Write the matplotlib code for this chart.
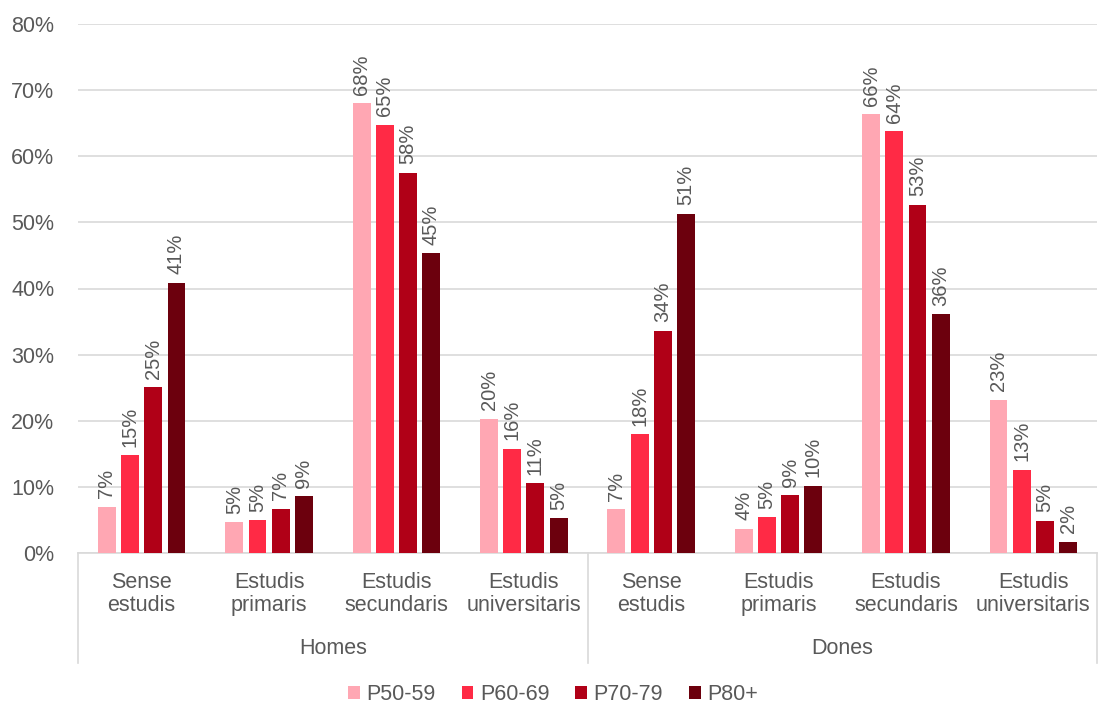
import matplotlib
matplotlib.use("Agg")
import matplotlib.pyplot as plt
import matplotlib.transforms as mtransforms
from matplotlib.patches import Patch
import numpy as np

plt.rcParams['font.family'] = ['Liberation Sans', 'DejaVu Sans']

categories = ["Sense\nestudis", "Estudis\nprimaris", "Estudis\nsecundaris", "Estudis\nuniversitaris",
              "Sense\nestudis", "Estudis\nprimaris", "Estudis\nsecundaris", "Estudis\nuniversitaris"]
groups = ["Homes", "Dones"]
series_names = ["P50-59", "P60-69", "P70-79", "P80+"]

p50_59 = [7.0, 4.7, 68.0, 20.3, 6.6, 3.7, 66.4, 23.2]
p60_69 = [14.8, 5.0, 64.8, 15.8, 18.0, 5.4, 63.8, 12.6]
p70_79 = [25.1, 6.7, 57.5, 10.6, 33.6, 8.7, 52.7, 4.9]
p80 = [40.9, 8.6, 45.3, 5.3, 51.3, 10.2, 36.1, 1.7]
series = [p50_59, p60_69, p70_79, p80]

colors = ["#FFA7B3", "#FF2A45", "#B00017", "#6C000D"]
text_color = "#595959"
grid_color = "#D9D9D9"

W, H = 1101, 706
fig = plt.figure(figsize=(W / 100, H / 100), dpi=100)
left, right, top, bottom = 78, 1097, 24, 553
ax = fig.add_axes([left / W, 1 - bottom / H, (right - left) / W, (bottom - top) / H])

x = np.arange(len(categories))
step = 0.182
width = 0.14
for j, vals in enumerate(series):
    xs = x + (j - 1.5) * step
    ax.bar(xs, [v / 100 for v in vals], width=width, color=colors[j], zorder=3,
           label=series_names[j])
    for xi, v in zip(xs, vals):
        ax.annotate(f"{round(v):d}%", xy=(xi, v / 100), xytext=(0, 6), textcoords="offset points",
                    rotation=90, ha="center", va="bottom", fontsize=14.5, color=text_color)

ax.set_xlim(-0.5, len(categories) - 0.5)
ax.set_ylim(0, 0.8)
ax.set_yticks(np.arange(0, 0.81, 0.1))
ax.set_yticklabels([f"{int(round(t * 100))}%" for t in np.arange(0, 0.81, 0.1)],
                   fontsize=15.5, color=text_color)
ax.tick_params(axis="y", length=0, pad=17)
ax.set_xticks([])
ax.yaxis.grid(True, color=grid_color, linewidth=1.2, zorder=0)
for s in ["top", "right", "left"]:
    ax.spines[s].set_visible(False)
ax.spines["bottom"].set_color(grid_color)
ax.spines["bottom"].set_linewidth(1.2)

axh = bottom - top
trans = mtransforms.blended_transform_factory(ax.transData, ax.transAxes)
for i, c in enumerate(categories):
    ax.text(i, -(594 - 553) / axh, c, transform=trans, ha="center", va="center",
            fontsize=15.5, color=text_color, linespacing=1.1)
for k, g in enumerate(groups):
    ax.text(1.5 + 4 * k, -(649 - 553) / axh, g, transform=trans, ha="center", va="center",
            fontsize=15.5, color=text_color)
for xv in [-0.5, 3.5, 7.5]:
    ax.plot([xv, xv], [0, -(663 - 553) / axh], transform=trans, color=grid_color,
            linewidth=1.2, clip_on=False)

handles = [Patch(facecolor=colors[j], label=series_names[j]) for j in range(4)]
fig.legend(handles=handles, loc="center", bbox_to_anchor=(553 / W, 1 - 695 / H), ncol=4,
           frameon=False, fontsize=15.5, handlelength=0.55, handleheight=0.55,
           handletextpad=0.3, columnspacing=1.2, labelcolor=text_color)

fig.savefig("out.png", dpi=100, facecolor="white")
